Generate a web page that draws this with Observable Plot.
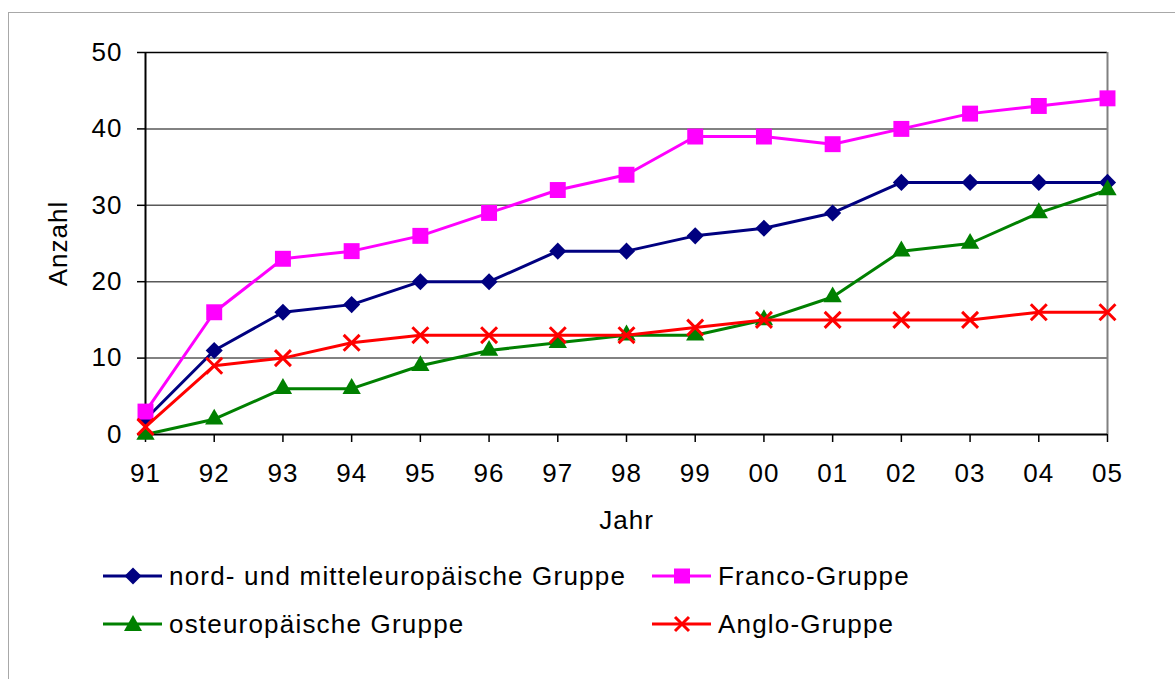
<!DOCTYPE html>
<html><head><meta charset="utf-8">
<script src="https://cdn.jsdelivr.net/npm/d3@7"></script>
<script src="https://cdn.jsdelivr.net/npm/@observablehq/plot@0.6"></script>
<style>
html,body{margin:0;padding:0;background:#fff;overflow:hidden;width:1175px;height:679px;}
#frame{position:absolute;left:8px;top:12px;width:1200px;height:700px;border:1px solid #a8a8a8;box-sizing:border-box;}
#chart{position:absolute;left:9px;top:13px;}
#legend{position:absolute;left:103px;top:552px;font-family:Arial,"Liberation Sans",sans-serif;font-size:26px;letter-spacing:1.2px;color:#000;}
.row{display:flex;height:48px;align-items:center;}
.item{display:flex;align-items:center;}
.item svg{margin-right:7px;}
</style>
</head><body>
<div id="frame"></div>
<div id="chart"></div>
<div id="legend"></div>
<script>
const years = ["91","92","93","94","95","96","97","98","99","00","01","02","03","04","05"];
const nord   = [2,11,16,17,20,20,24,24,26,27,29,33,33,33,33];
const franco = [3,16,23,24,26,29,32,34,39,39,38,40,42,43,44];
const ost    = [0,2,6,6,9,11,12,13,13,15,18,24,25,29,32];
const anglo  = [1,9,10,12,13,13,13,13,14,15,15,15,15,16,16];
const yTicks = [0,10,20,30,40,50];
const seriesNames = ["nord- und mitteleuropäische Gruppe","Franco-Gruppe","osteuropäische Gruppe","Anglo-Gruppe"];

const series = [
  {name: seriesNames[0], values: nord,   color: "#000080", symbol: "diamond2", r: 7.7, filled: true},
  {name: seriesNames[1], values: franco, color: "#FF00FF", symbol: "square",   r: 9,   filled: true},
  {name: seriesNames[2], values: ost,    color: "#008000", symbol: "triangle", r: 6.8, filled: true},
  {name: seriesNames[3], values: anglo,  color: "#FF0000", symbol: "times",    r: 7.3, filled: false}
];

const axisFont = {fontSize: 26, fontFamily: "Arial, 'Liberation Sans', sans-serif"};
const marks = [
  Plot.ruleY([10,20,30,40], {stroke: "#595959", strokeWidth: 1.5}),
  Plot.ruleY([50], {stroke: "#000", strokeWidth: 1.5}),
  Plot.ruleX([years[years.length-1]], {stroke: "#808080", strokeWidth: 2}),
  Plot.axisY({...axisFont, ticks: yTicks, tickSize: 8, tickPadding: 15, strokeWidth: 1.5, label: "Anzahl", labelAnchor: "center", labelOffset: 97, labelArrow: false}),
  Plot.axisX({...axisFont, tickSize: 8, tickPadding: 21, strokeWidth: 1.5, label: "Jahr", labelAnchor: "center", labelOffset: 94, labelArrow: false}),
  Plot.ruleX([years[0]], {stroke: "#000", strokeWidth: 2}),
  Plot.ruleY([0], {stroke: "#000", strokeWidth: 2})
];
for (const s of series) {
  marks.push(Plot.line(years, {x: d => d, y: (d, i) => s.values[i], stroke: s.color, strokeWidth: 3}));
  marks.push(Plot.dot(years, {x: d => d, y: (d, i) => s.values[i], symbol: s.symbol, r: s.r,
    fill: s.filled ? s.color : "none", stroke: s.filled ? "none" : s.color, strokeWidth: s.filled ? 0 : 3}));
}

const plot = Plot.plot({
  width: 1160,
  height: 521,
  marginLeft: 136,
  marginRight: 62,
  marginTop: 39,
  marginBottom: 100,
  style: {fontFamily: "Arial, 'Liberation Sans', sans-serif", fontSize: "26px", letterSpacing: "1px", color: "#000", background: "transparent"},
  x: {type: "point", domain: years, padding: 0, round: false},
  y: {domain: [0, 50]},
  marks
});
document.getElementById("chart").appendChild(plot);

// legend
function markerSvg(s) {
  const w = 59, h = 24, cx = 30, cy = 12;
  let shape = "";
  if (s.symbol === "diamond2") shape = `<path d="M${cx},${cy-8.5}L${cx+8.5},${cy}L${cx},${cy+8.5}L${cx-8.5},${cy}Z" fill="${s.color}"/>`;
  else if (s.symbol === "square") shape = `<rect x="${cx-8}" y="${cy-7.5}" width="16" height="15" fill="${s.color}"/>`;
  else if (s.symbol === "triangle") shape = `<path d="M${cx},${cy-9}L${cx+9},${cy+7}L${cx-9},${cy+7}Z" fill="${s.color}"/>`;
  else shape = `<path d="M${cx-7},${cy-7}L${cx+7},${cy+7}M${cx+7},${cy-7}L${cx-7},${cy+7}" stroke="${s.color}" stroke-width="3" fill="none"/>`;
  return `<svg width="${w}" height="${h}"><line x1="0" x2="${w}" y1="${cy}" y2="${cy}" stroke="${s.color}" stroke-width="3"/>${shape}</svg>`;
}
const leg = document.getElementById("legend");
const order = [[0,1],[2,3]];
for (const row of order) {
  const r = document.createElement("div"); r.className = "row";
  row.forEach((idx, j) => {
    const it = document.createElement("div"); it.className = "item";
    if (j === 0) it.style.width = "549px";
    it.innerHTML = markerSvg(series[idx]) + `<span>${series[idx].name}</span>`;
    r.appendChild(it);
  });
  leg.appendChild(r);
}
</script>
</body></html>
